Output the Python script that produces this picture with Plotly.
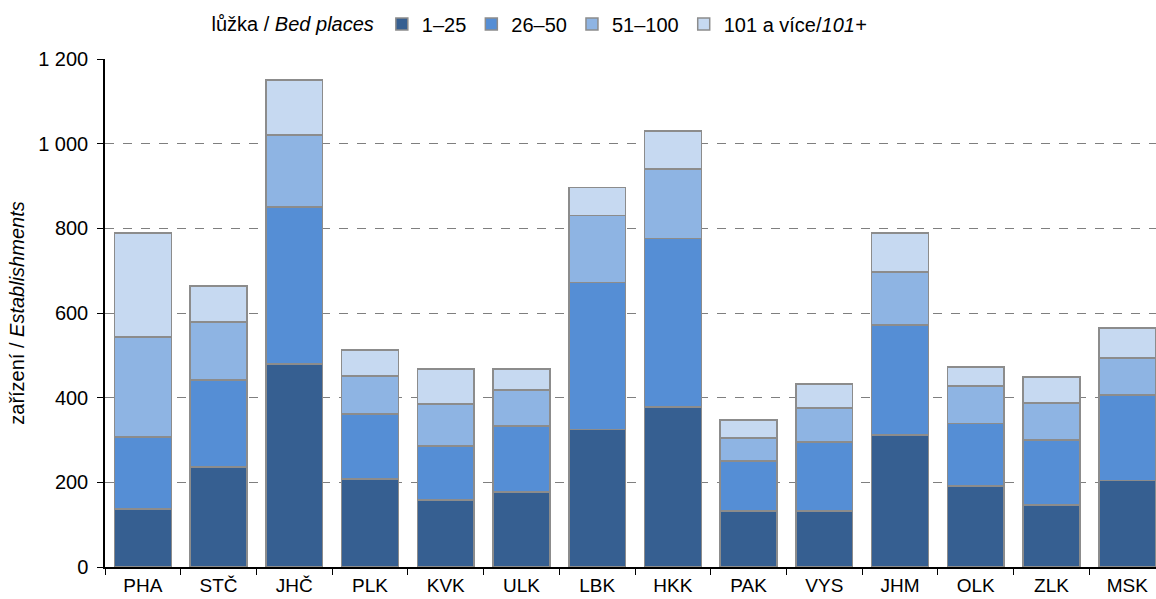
import plotly.graph_objects as go

# Regions (NUTS 3 codes) and establishments by number of bed places
regions = ["PHA", "STČ", "JHČ", "PLK", "KVK", "ULK", "LBK", "HKK",
           "PAK", "VYS", "JHM", "OLK", "ZLK", "MSK"]
beds_1_25 = [137, 236, 479, 208, 158, 177, 325, 378, 132, 132, 312, 191, 146, 204]
beds_26_50 = [170, 206, 371, 153, 128, 156, 347, 398, 118, 163, 260, 148, 154, 202]
beds_51_100 = [236, 137, 170, 90, 99, 85, 158, 164, 55, 81, 125, 89, 88, 88]
beds_101_plus = [246, 85, 130, 62, 83, 50, 66, 90, 42, 56, 92, 44, 61, 71]

series_names = ["1–25", "26–50", "51–100", "101 a více/<i>101+</i>"]
series_values = [beds_1_25, beds_26_50, beds_51_100, beds_101_plus]
series_colors = ["#365F91", "#558ED5", "#8EB4E3", "#C6D9F1"]

y_ticks = [0, 200, 400, 600, 800, 1000, 1200]
y_tick_text = ["0", "200", "400", "600", "800", "1 000", "1 200"]

FONT = "Liberation Sans, Arial, sans-serif"

fig = go.Figure()
for name, vals, color in zip(series_names, series_values, series_colors):
    fig.add_trace(go.Bar(
        x=regions, y=vals, name=name,
        marker=dict(color=color, line=dict(color="#8C8C8C", width=1.5)),
    ))

fig.update_layout(
    barmode="stack",
    bargap=0.25,
    width=1156, height=599,
    margin=dict(l=105, r=0, t=59, b=32, autoexpand=False),
    paper_bgcolor="white", plot_bgcolor="white",
    font=dict(family=FONT, size=20, color="#000000"),
    legend=dict(
        orientation="h",
        x=0.468, xref="container", xanchor="center",
        y=1 - 24 / 599, yref="container", yanchor="middle",
        title=dict(text="lůžka / <i>Bed places</i>", side="left",
                   font=dict(size=20)),
        font=dict(size=20),
        itemwidth=30,
        traceorder="normal",
    ),
    xaxis=dict(
        type="category",
        range=[-0.5, 13.38],
        showline=True, linecolor="#000000", linewidth=1.5,
        ticks="outside", tickson="boundaries", ticklen=6, tickcolor="#000000",
        ticklabelstandoff=0,
        showgrid=False,
        tickfont=dict(size=19),
    ),
    yaxis=dict(
        range=[0, 1200],
        tickvals=y_ticks, ticktext=y_tick_text,
        showline=True, linecolor="#000000", linewidth=1.5,
        ticks="outside", ticklen=6, tickcolor="#000000",
        ticklabelstandoff=5,
        showgrid=True, gridcolor="#7F7F7F", griddash="dash", gridwidth=1.2,
        zeroline=False,
        tickfont=dict(size=20),
        title=dict(text="zařízení / <i>Establishments</i>",
                   font=dict(size=20), standoff=8),
    ),
)

fig.write_html("out.html")
